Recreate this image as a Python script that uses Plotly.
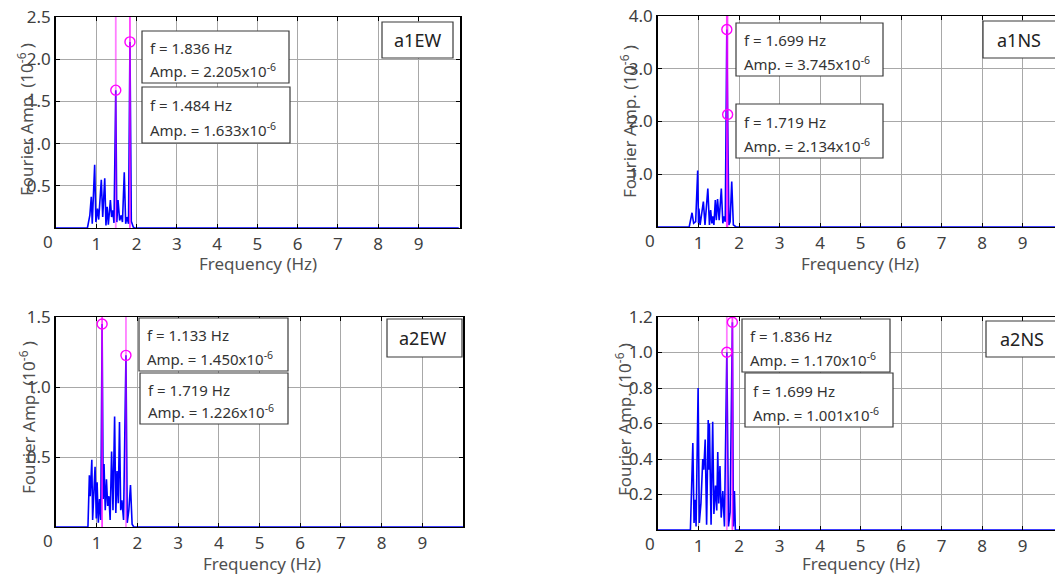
import plotly.graph_objects as go

W, H = 1055, 575
FONT = "Noto Sans"

# ---------------- data ----------------
labels = ["a1EW", "a1NS", "a2EW", "a2NS"]

f_a1EW = [0, 0.78, 0.84, 0.876, 0.90, 0.96, 0.99, 1.03, 1.06, 1.125, 1.16, 1.21, 1.24, 1.27, 1.30,
          1.35, 1.38, 1.41, 1.44, 1.484, 1.51, 1.54, 1.58, 1.62, 1.65, 1.695, 1.73, 1.76, 1.80,
          1.836, 1.87, 1.92, 1.95, 10]
a_a1EW = [0, 0, 0.15, 0.37, 0.05, 0.75, 0.07, 0.23, 0.10, 0.57, 0.13, 0.59, 0.03, 0.25, 0.04,
          0.33, 0.13, 0.21, 0.06, 1.633, 0.07, 0.33, 0.09, 0.15, 0.07, 0.66, 0.05, 0.13, 0.05,
          2.205, 0.08, 0.01, 0, 0]

f_a1NS = [0, 0.77, 0.84, 0.88, 0.93, 0.98, 1.00, 1.01, 1.04, 1.12, 1.16, 1.23, 1.27, 1.30, 1.33,
          1.35, 1.38, 1.415, 1.44, 1.47, 1.51, 1.563, 1.60, 1.63, 1.66, 1.699, 1.719, 1.75, 1.78,
          1.82, 1.86, 1.93, 10]
a_a1NS = [0, 0, 0.27, 0.07, 0.10, 1.07, 0.07, 0.35, 0.04, 0.48, 0.04, 0.73, 0.04, 0.32, 0.07,
          0.20, 0.04, 0.51, 0.13, 0.53, 0.13, 0.73, 0.07, 0.20, 0.10, 3.745, 2.134, 0.04, 0.10,
          0.86, 0.04, 0, 0]

f_a2EW = [0, 0.785, 0.82, 0.84, 0.88, 0.90, 0.94, 0.96, 0.99, 1.01, 1.04, 1.07, 1.10, 1.133, 1.16,
          1.18, 1.21, 1.24, 1.27, 1.30, 1.33, 1.366, 1.40, 1.44, 1.47, 1.50, 1.53, 1.56, 1.59,
          1.62, 1.66, 1.719, 1.75, 1.79, 1.83, 1.87, 1.91, 10]
a_a2EW = [0, 0, 0.37, 0.22, 0.48, 0.05, 0.31, 0.43, 0.06, 0.32, 0.03, 0.20, 0.05, 1.45, 0.20,
          0.45, 0.12, 0.34, 0.15, 0.22, 0.05, 0.54, 0.12, 0.79, 0.10, 0.40, 0.17, 0.75, 0.12,
          0.19, 0.05, 1.226, 0.03, 0.12, 0.30, 0.02, 0, 0]

f_a2NS = [0, 0.80, 0.86, 0.89, 0.92, 0.94, 0.99, 1.02, 1.06, 1.105, 1.13, 1.165, 1.20, 1.24, 1.255,
          1.27, 1.31, 1.35, 1.38, 1.42, 1.45, 1.475, 1.50, 1.53, 1.56, 1.60, 1.64, 1.699, 1.74,
          1.78, 1.836, 1.86, 1.887, 1.91, 10]
a_a2NS = [0, 0, 0.49, 0.04, 0.17, 0.02, 0.80, 0.04, 0.15, 0.40, 0.34, 0.51, 0.03, 0.62, 0.34,
          0.60, 0.03, 0.61, 0.09, 0.25, 0.11, 0.44, 0.15, 0.36, 0.07, 0.22, 0.02, 1.001, 0.02,
          0.10, 1.17, 0.02, 0.22, 0, 0]

# peaks: (frequency, amplitude) -> first entry is the upper text box
peaks_a1EW = [(1.836, 2.205), (1.484, 1.633)]
peaks_a1NS = [(1.699, 3.745), (1.719, 2.134)]
peaks_a2EW = [(1.133, 1.450), (1.719, 1.226)]
peaks_a2NS = [(1.836, 1.170), (1.699, 1.001)]

yticks_a1EW = [0.5, 1.0, 1.5, 2.0, 2.5]
yticks_a1NS = [1.0, 2.0, 3.0, 4.0]
yticks_a2EW = [0.5, 1.0, 1.5]
yticks_a2NS = [0.2, 0.4, 0.6, 0.8, 1.0, 1.2]
xticks = [1, 2, 3, 4, 5, 6, 7, 8, 9]

# ---------------- layout geometry (pixels) ----------------
def px(x):
    return x / W

def py(y):
    return 1 - y / H

panels = [
    dict(f=f_a1EW, a=a_a1EW, peaks=peaks_a1EW, yt=yticks_a1EW, ymax=2.5, xmax=10.03,
         box=(56, 460, 17, 228), tb=[(142, 289, 31, 83), (142, 290, 87, 143)],
         lab=(382, 453, 22, 58), ytitle=(25, 120), xtitle=(258, 264), mirror_y=True),
    dict(f=f_a1NS, a=a_a1NS, peaks=peaks_a1NS, yt=yticks_a1NS, ymax=4.0, xmax=9.8,
         box=(658, 1055, 16, 227), tb=[(736, 883, 23, 76), (736, 883, 104, 158)],
         lab=(983, 1070, 21, 58), ytitle=(628, 122), xtitle=(860, 264), mirror_y=False),
    dict(f=f_a2EW, a=a_a2EW, peaks=peaks_a2EW, yt=yticks_a2EW, ymax=1.5, xmax=10.0,
         box=(56, 463, 317, 527), tb=[(139, 288, 318, 371), (140, 288, 373, 424)],
         lab=(387, 462, 319, 357), ytitle=(27, 418), xtitle=(262, 563), mirror_y=True),
    dict(f=f_a2NS, a=a_a2NS, peaks=peaks_a2NS, yt=yticks_a2NS, ymax=1.2, xmax=9.8,
         box=(658, 1055, 317, 530), tb=[(742, 890, 319, 372), (745, 893, 373, 427)],
         lab=(986, 1070, 321, 357), ytitle=(623, 420), xtitle=(861, 563), mirror_y=False),
]

fig = go.Figure()
annotations = []
shapes = []
layout_axes = {}

for i, p in enumerate(panels):
    n = "" if i == 0 else str(i + 1)
    xa, ya = "x" + n, "y" + n
    x0, x1, y0, y1 = p["box"]
    layout_axes["xaxis" + n] = dict(
        domain=[px(x0), min(px(x1), 1.0)], anchor=ya, range=[0, p["xmax"]], automargin=False,
        tickvals=xticks, ticktext=[str(t) for t in xticks], showgrid=True,
        gridcolor="#a8a8a8", gridwidth=1, showline=True, linecolor="#000000", linewidth=1.2,
        mirror="ticks", ticks="inside", ticklen=4, tickcolor="#000000",
        tickfont=dict(family=FONT, size=17, color="#404040"), zeroline=False,
    )
    layout_axes["yaxis" + n] = dict(
        domain=[py(y1), py(y0)], anchor=xa, range=[0, p["ymax"]], automargin=False,
        tickvals=p["yt"], ticktext=["%.1f" % t for t in p["yt"]], showgrid=True,
        gridcolor="#a8a8a8", gridwidth=1, showline=True, linecolor="#000000", linewidth=1.5,
        mirror="ticks" if p["mirror_y"] else False, ticks="inside", ticklen=4,
        tickcolor="#000000", tickfont=dict(family=FONT, size=17, color="#404040"),
        zeroline=False,
    )

    # spectrum
    fig.add_trace(go.Scatter(x=p["f"], y=p["a"], mode="lines", xaxis=xa, yaxis=ya,
                             line=dict(color="#0000ff", width=1.6), showlegend=False,
                             hoverinfo="skip"))
    # peak vertical lines
    for k, (pf, pa) in enumerate(p["peaks"]):
        op = 0.75 if k == 0 else 0.5
        fig.add_trace(go.Scatter(x=[pf, pf], y=[0, p["ymax"]], mode="lines", xaxis=xa, yaxis=ya,
                                 line=dict(color="#ff00ff", width=1.8), opacity=op,
                                 showlegend=False, hoverinfo="skip"))
    # markers
    fig.add_trace(go.Scatter(x=[pk[0] for pk in p["peaks"]], y=[pk[1] for pk in p["peaks"]],
                             mode="markers", xaxis=xa, yaxis=ya,
                             marker=dict(symbol="circle-open", size=10, color="#ff00ff",
                                         line=dict(width=1.4, color="#ff00ff")),
                             showlegend=False, hoverinfo="skip"))

    # text boxes
    for (bx0, bx1, by0, by1), (pf, pa) in zip(p["tb"], p["peaks"]):
        shapes.append(dict(type="rect", xref="paper", yref="paper", x0=px(bx0), x1=px(bx1),
                           y0=py(by1), y1=py(by0), fillcolor="white",
                           line=dict(color="#3a3a3a", width=1.2), layer="above"))
        hgt = by1 - by0
        annotations.append(dict(xref="paper", yref="paper", x=px(bx0 + 6), y=py(by0 + hgt * 0.33),
                                xanchor="left", yanchor="middle", showarrow=False,
                                text="f = %.3f Hz" % pf,
                                font=dict(family=FONT, size=15, color="#333333")))
        annotations.append(dict(xref="paper", yref="paper", x=px(bx0 + 6), y=py(by0 + hgt * 0.76),
                                xanchor="left", yanchor="middle", showarrow=False,
                                text="Amp. = %.3fx10<sup>-6</sup>" % pa,
                                font=dict(family=FONT, size=15, color="#333333")))
    # label box
    lx0, lx1, ly0, ly1 = p["lab"]
    shapes.append(dict(type="rect", xref="paper", yref="paper", x0=px(lx0), x1=px(lx1),
                       y0=py(ly1), y1=py(ly0), fillcolor="white",
                       line=dict(color="#3a3a3a", width=1.2), layer="above"))
    annotations.append(dict(xref="paper", yref="paper", x=px(lx0 + 35.5), y=py((ly0 + ly1) / 2),
                            xanchor="center", yanchor="middle", showarrow=False,
                            text=labels[i], font=dict(family=FONT, size=18, color="#222222")))
    # axis titles
    tx, ty = p["ytitle"]
    annotations.append(dict(xref="paper", yref="paper", x=px(tx), y=py(ty), textangle=-90,
                            xanchor="center", yanchor="middle", showarrow=False,
                            text="Fourier Amp. (10<sup>-6</sup> )",
                            font=dict(family=FONT, size=17, color="#505050")))
    fx, fy = p["xtitle"]
    annotations.append(dict(xref="paper", yref="paper", x=px(fx), y=py(fy),
                            xanchor="center", yanchor="middle", showarrow=False,
                            text="Frequency (Hz)",
                            font=dict(family=FONT, size=17, color="#505050")))
    # "0" tick label left of the axis
    annotations.append(dict(xref="paper", yref="paper", x=px(x0 - 8), y=py(y1 + 13),
                            xanchor="center", yanchor="middle", showarrow=False, text="0",
                            font=dict(family=FONT, size=17, color="#404040")))

fig.update_layout(
    width=W, height=H, margin=dict(l=0, r=0, t=0, b=0, autoexpand=False),
    paper_bgcolor="white", plot_bgcolor="white",
    annotations=annotations, shapes=shapes, showlegend=False,
    **layout_axes,
)

fig.write_html("out.html", config={"displayModeBar": False},
               post_script="document.body.style.margin='0';document.body.style.padding='0';"
                           "document.body.style.overflow='hidden';")
